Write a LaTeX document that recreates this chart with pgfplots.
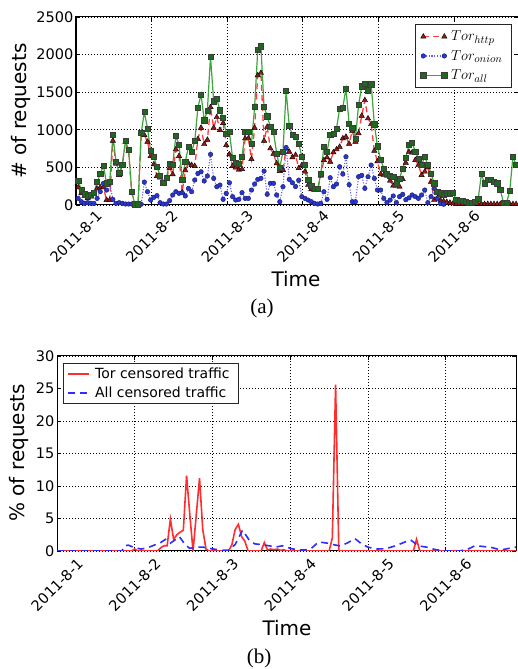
\documentclass[border=0pt]{standalone}
\usepackage{pgfplots}
\pgfplotsset{compat=1.18}
\usepackage{pgfplotstable}
\usepackage{fontspec}
\setmainfont{DejaVu Sans}
\newfontfamily\capfont{Liberation Serif}
\definecolor{httpline}{RGB}{255,60,60}
\definecolor{httpmark}{RGB}{150,25,25}
\definecolor{onionline}{RGB}{95,95,255}
\definecolor{onionmark}{RGB}{40,55,205}
\definecolor{onionedge}{RGB}{25,25,110}
\definecolor{allline}{RGB}{60,165,60}
\definecolor{allmark}{RGB}{30,105,30}
\definecolor{alledge}{RGB}{60,60,60}
\definecolor{torcens}{RGB}{255,45,45}
\definecolor{allcens}{RGB}{45,45,255}

\pgfplotstableread{
i all http onion
0 323 235 88
1 199 155 44
2 142 120 22
3 120 89 31
4 133 111 22
5 164 144 20
6 305 217 88
7 411 234 177
8 522 234 288
9 290 66 199
10 305 66 288
11 929 854 75
12 571 549 22
13 429 398 31
14 540 518 22
15 854 841 13
16 730 717 13
17 173 160 13
18 9 9 0
19 9 9 0
20 960 950 10
21 1235 930 305
22 1018 841 177
23 717 651 66
24 642 540 102
25 509 385 124
26 394 363 31
27 301 288 13
28 363 350 13
29 553 495 58
30 540 407 133
31 916 739 177
32 805 650 155
33 332 168 164
34 580 460 120
35 774 554 220
36 708 531 177
37 850 518 332
38 1297 877 420
39 1469 1027 442
40 1128 809 319
41 1252 867 385
42 1973 1300 673
43 1380 1026 354
44 1411 1168 243
45 1261 996 265
46 1164 1089 75
47 951 796 155
48 969 673 296
49 628 517 111
50 562 496 66
51 544 469 75
52 642 478 164
53 973 885 88
54 973 885 88
55 810 611 199
56 1305 1026 279
57 2066 1725 341
58 2110 1756 354
59 1305 854 451
60 1181 1039 142
61 1040 752 288
62 969 681 288
63 686 553 133
64 496 452 44
65 708 465 243
66 1518 753 765
67 1049 708 341
68 929 633 296
69 910 665 245
70 819 489 330
71 642 531 111
72 531 443 88
73 332 266 66
74 252 208 44
75 221 199 22
76 212 199 13
77 411 389 22
78 774 597 177
79 708 633 75
80 938 575 363
81 943 700 243
82 1018 739 279
83 1283 774 509
84 1297 886 411
85 1549 907 642
86 1084 814 270
87 1031 987 44
88 885 841 44
89 1328 952 376
90 1580 1186 394
91 1615 1394 221
92 1527 1151 376
93 1606 1075 531
94 1075 721 354
95 780 581 199
96 606 407 199
97 487 399 88
98 420 389 31
99 389 323 66
100 376 256 120
101 288 257 31
102 354 243 111
103 487 345 142
104 630 560 70
105 800 705 95
106 830 697 133
107 708 597 111
108 620 532 88
109 531 398 133
110 642 443 199
111 531 500 31
112 420 309 111
113 288 67 221
114 177 90 88
115 155 60 20
116 133 50 10
117 155 40 nan
118 155 30 nan
119 164 20 nan
120 66 12 nan
121 58 12 nan
122 58 12 nan
123 44 12 nan
124 31 12 nan
125 31 12 nan
126 40 12 nan
127 88 12 nan
128 411 12 nan
129 288 12 nan
130 332 12 nan
131 341 12 nan
132 310 12 nan
133 288 12 nan
134 199 12 nan
135 31 12 nan
136 31 12 nan
137 190 12 nan
138 642 12 nan
139 531 12 nan
}\toptable

\begin{document}
\begin{tikzpicture}
\useasboundingbox (0,0) rectangle (517pt,669pt);
\pgfplotsset{
  common/.style={
    scale only axis, anchor=south west,
    grid=major,
    grid style={black, line width=0.7pt, dash pattern=on 0.7pt off 2.3pt},
    tick align=inside, major tick length=4pt,
    tick style={black, line width=0.8pt},
    axis line style={line width=1pt},
    tick label style={font=\fontsize{14.5}{17}\selectfont},
    yticklabel style={inner xsep=0pt, xshift=-2.5pt},
    xtick={0,24,48,72,96,120},
    xticklabels={2011-8-1,2011-8-2,2011-8-3,2011-8-4,2011-8-5,2011-8-6},
    legend cell align=left,
  }
}
% ---------------- (a) ----------------
\begin{axis}[common,
  at={(76pt,464pt)}, width=443pt, height=188pt,
  xmin=0, xmax=140.63, ymin=0, ymax=2500,
  ytick={0,500,1000,1500,2000,2500},
  yticklabels={0,500,1000,1500,2000,2500},
  xticklabel style={yshift=-32pt, rotate=45, anchor=center},
  unbounded coords=discard,
  legend image code/.code={\draw[#1] plot coordinates {(0pt,0pt) (21pt,0pt)};},
  legend style={at={(0.984,0.963)}, anchor=north east, draw=black!85,
    line width=1pt, fill=white, font=\fontsize{15}{17}\selectfont,
    inner xsep=5pt, inner ysep=2.5pt, row sep=0pt,
    nodes={inner ysep=4pt, inner xsep=4pt}},
]
\addplot[httpline, line width=1.3pt, dash pattern=on 6pt off 4pt,
  mark=triangle*, mark size=3.1pt,
  mark options={solid, fill=httpmark, draw=black, line width=0.4pt}]
  table[x expr=\coordindex+0.7, y=http] {\toptable};
\addlegendentry{$Tor_{http}$}
\addplot[onionline, line width=1.1pt, dash pattern=on 1.1pt off 1.6pt,
  mark=*, mark size=2.3pt,
  mark options={solid, fill=onionmark, draw=onionedge, line width=0.4pt}]
  table[x expr=\coordindex+0.7, y=onion] {\toptable};
\addlegendentry{$Tor_{onion}$}
\addplot[allline, line width=1.2pt,
  mark=square*, mark size=2.6pt,
  mark options={solid, fill=allmark, draw=alledge, line width=0.5pt}]
  table[x expr=\coordindex+0.7, y=all] {\toptable};
\addlegendentry{$Tor_{all}$}
\end{axis}
% ---------------- (b) ----------------
\begin{axis}[common,
  at={(57pt,118pt)}, width=459pt, height=195pt,
  xmin=0, xmax=141.7, ymin=0, ymax=30,
  ytick={0,5,10,15,20,25,30},
  yticklabels={0,5,10,15,20,25,30},
  xticklabel style={yshift=-34pt, rotate=45, anchor=center},
  legend image code/.code={\draw[#1] (0pt,0pt) -- (21pt,0pt);},
  legend style={at={(0.013,0.964)}, anchor=north west, draw=black!85,
    line width=1pt, fill=white, font=\fontsize{14}{16}\selectfont,
    inner xsep=4pt, inner ysep=1.5pt, row sep=0pt,
    nodes={inner ysep=3.2pt, inner xsep=5pt}},
]
\addplot[torcens, line width=1.6pt] coordinates {
(0,0) (23,0) (24,0.3) (25,0) (31,0) (32,0.5) (33,0.8) (34,0.8) (35,4.9) (36,1.8)
(37,2.5) (38,2.9) (39,3.2) (40,11.6) (41,5.6) (42,0) (43,5.6) (44,11.2) (45,3.3)
(46,0.3) (47,0) (53,0) (54,1.0) (55,3.3) (56,4.1) (57,2.2) (58,1.5) (59,0) (63,0)
(64,1.3) (65,0.15) (66,0.3) (67,0.2) (68,0.3) (69,0.1) (70,0.2) (71,0) (84,0)
(85,2.0) (86,25.6) (87,0) (110,0) (111,1.8) (112,0) (141.7,0)
};
\addlegendentry{Tor censored traffic}
\addplot[allcens, line width=1.6pt, dash pattern=on 7pt off 5pt] coordinates {
(0,0) (20,0) (21,0.8) (22,0.9) (24,0.5) (26,0.3) (28,0.5) (30,0.9) (32,1.3)
(33.5,1.8) (35,1.2) (37.8,2.2) (39.5,1.0) (41,0.4) (43,0.6) (45,0.6) (47,0.4)
(49,0.25) (51,0.1) (53,0.15) (55,1.0) (57.3,3.2) (59.3,1.7) (61,1.1) (63,1.0)
(65.5,0.8) (67.5,0.6) (69.5,0.8) (71,0.6) (72,0.4) (74.5,0.15) (76.5,0.15)
(78.5,0.4) (80.8,1.4) (83.5,1.2) (86,0.9) (87.5,0.8) (89.5,1.2) (92,1.9) (94,1.1)
(96,0.6) (98.5,0.3) (101.5,0.35) (104.5,0.8) (107.5,1.4) (109.2,1.7) (111.5,0.8)
(114,0.6) (116.5,0.25) (119,0.05) (121.5,0) (124,0) (126.5,0.2) (129,0.8)
(131.5,0.7) (134.5,0.5) (137,0.15) (139.5,0.4) (141.7,0.6)
};
\addlegendentry{All censored traffic}
\end{axis}
% ---------------- labels ----------------
\node[font=\fontsize{20}{24}\selectfont] at (296pt,390pt) {Time};
\node[font=\fontsize{20}{24}\selectfont, rotate=90] at (21pt,558pt) {\# of requests};
\node[font=\capfont\fontsize{21}{25}\selectfont] at (262pt,361pt) {(a)};
\node[font=\fontsize{20}{24}\selectfont] at (287pt,41pt) {Time};
\node[font=\fontsize{20}{24}\selectfont, rotate=90] at (19pt,216pt) {\% of requests};
\node[font=\capfont\fontsize{21}{25}\selectfont] at (259pt,11pt) {(b)};
\end{tikzpicture}
\end{document}
